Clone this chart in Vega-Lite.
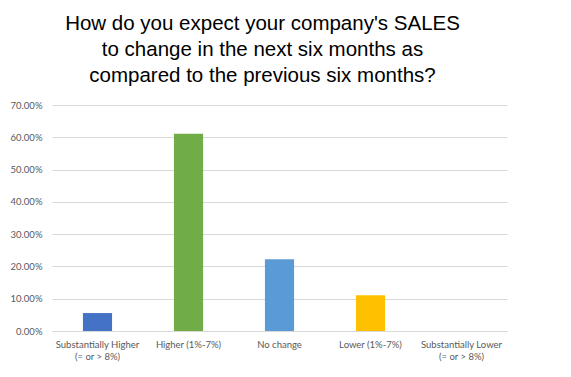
{
  "$schema": "https://vega.github.io/schema/vega-lite/v6.json",
  "width": 455,
  "height": 226,
  "autosize": "none",
  "padding": {"left": 52, "top": 105, "right": 64, "bottom": 46},
  "background": "white",
  "title": {
    "text": ["How do you expect your company's SALES", "to change in the next six months as", "compared to the previous six months?"],
    "font": "Liberation Sans",
    "fontSize": 20.5,
    "fontWeight": "normal",
    "color": "#000000",
    "lineHeight": 26,
    "anchor": "middle",
    "frame": "group",
    "offset": 14,
    "dx": -17
  },
  "data": {
    "values": [
      {"category": "Substantially Higher (= or > 8%)", "share": 0.0556, "color": "#4472C4"},
      {"category": "Higher (1%-7%)", "share": 0.6111, "color": "#70AD47"},
      {"category": "No change", "share": 0.2222, "color": "#5B9BD5"},
      {"category": "Lower (1%-7%)", "share": 0.1111, "color": "#FFC000"},
      {"category": "Substantially Lower (= or > 8%)", "share": 0, "color": "#A5A5A5"}
    ]
  },
  "mark": {"type": "bar"},
  "encoding": {
    "x": {
      "field": "category",
      "type": "nominal",
      "sort": null,
      "scale": {"paddingInner": 0.68, "paddingOuter": 0.34},
      "axis": {
        "title": null,
        "labelAngle": 0,
        "labelFont": "Lato",
        "labelFontSize": 9.5,
        "labelColor": "#595959",
        "labelPadding": 8,
        "labelLineHeight": 12,
        "labelExpr": "indexof(datum.label, ' (=') > 0 ? [slice(datum.label, 0, indexof(datum.label, ' (=')), slice(datum.label, indexof(datum.label, ' (=') + 1)] : datum.label",
        "ticks": false,
        "domainColor": "#d9d9d9",
        "grid": false
      }
    },
    "y": {
      "field": "share",
      "type": "quantitative",
      "scale": {"domain": [0, 0.7]},
      "axis": {
        "title": null,
        "format": ".2%",
        "values": [0, 0.1, 0.2, 0.3, 0.4, 0.5, 0.6, 0.7],
        "labelFont": "Lato",
        "labelFontSize": 9.5,
        "labelColor": "#595959",
        "labelPadding": 10,
        "ticks": false,
        "domain": false,
        "gridColor": "#d9d9d9",
        "gridWidth": 1
      }
    },
    "color": {"field": "color", "type": "nominal", "scale": null, "legend": null}
  },
  "config": {"view": {"stroke": null}}
}
